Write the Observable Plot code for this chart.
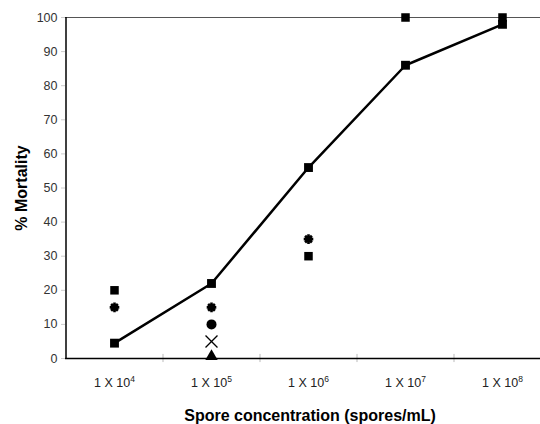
<!DOCTYPE html>
<html>
<head>
<meta charset="utf-8">
<script src="https://cdn.jsdelivr.net/npm/d3@7"></script>
<script src="https://cdn.jsdelivr.net/npm/@observablehq/plot@0.6"></script>
<style>
  html, body { margin: 0; padding: 0; background: #fff; overflow: hidden; }
  #chart svg { display: block; }
</style>
</head>
<body>
<div id="chart"></div>
<script>
// Categories (spore concentrations, exponent of 10)
const concentrations = ["4", "5", "6", "7", "8"];
// Main series (line with squares)
const meanMortality = [4.5, 22, 56, 86, 98];
// Individual replicate points
const squarePts = [["4", 20], ["6", 30], ["7", 100], ["8", 100]];
const asteriskPts = [["4", 15], ["5", 15], ["6", 35]];
const circlePts = [["5", 10]];
const timesPts = [["5", 5]];
const trianglePts = [["5", 0]];
const yTicks = [0, 10, 20, 30, 40, 50, 60, 70, 80, 90, 100];

const main = concentrations.map((c, i) => ({c, v: meanMortality[i]}));
const toObj = arr => arr.map(([c, v]) => ({c, v}));
const halfStep = 48.5;

// 8-armed asterisk symbol
const star8 = {
  draw(context, size) {
    const r = Math.sqrt(size / Math.PI);
    for (let k = 0; k < 4; k++) {
      const a = k * Math.PI / 4;
      const dx = r * Math.cos(a), dy = r * Math.sin(a);
      context.moveTo(-dx, -dy);
      context.lineTo(dx, dy);
    }
  }
};

const plot = Plot.plot({
  width: 540,
  height: 424,
  marginLeft: 65,
  marginTop: 17,
  marginBottom: 66,
  marginRight: 0,
  style: {fontFamily: "Arial, 'Liberation Sans', sans-serif", background: "#fff", color: "#000"},
  x: {type: "point", domain: concentrations, range: [65, 550], padding: 0.5, align: 0.5},
  y: {domain: [0, 100], range: [358, 17]},
  marks: [
    Plot.ruleY([100], {stroke: "#555", strokeWidth: 1}),
    Plot.axisY({
      ticks: yTicks, tickSize: 4, stroke: "#ccc", tickPadding: 4,
      fontSize: 12.5, fill: "#333",
      label: "% Mortality", labelAnchor: "center", labelOffset: 50, labelArrow: "none"
    }),
    Plot.axisX({
      tickSize: 0, tickPadding: 20, fontSize: 12.5, fill: "#222",
      tickFormat: d => "1 X 10^" + d,
      label: "Spore concentration (spores/mL)", labelAnchor: "center", labelOffset: 62, labelArrow: "none"
    }),
    // category boundary ticks
    Plot.ruleX(concentrations.slice(1), {x: d => d, dx: -halfStep, y1: -1.2, y2: 1.2, stroke: "#bbb", clip: false}),
    // left axis line
    Plot.ruleX([concentrations[0]], {x: d => d, dx: -halfStep, y1: 0, y2: 100, stroke: "#000", strokeWidth: 1.5}),
    Plot.ruleY([0], {stroke: "#000", strokeWidth: 1.5}),
    Plot.line(main, {x: "c", y: "v", stroke: "#000", strokeWidth: 2.5}),
    Plot.dot(main, {x: "c", y: "v", symbol: "square", r: 5, fill: "#000"}),
    Plot.dot(toObj(squarePts), {x: "c", y: "v", symbol: "square", r: 4.8, fill: "#000"}),
    Plot.dot(toObj(asteriskPts), {x: "c", y: "v", symbol: star8, r: 4.8, fill: "none", stroke: "#000", strokeWidth: 2.6}),
    Plot.dot(toObj(circlePts), {x: "c", y: "v", symbol: "circle", r: 5, fill: "#000"}),
    Plot.dot(toObj(timesPts), {x: "c", y: "v", symbol: "times", r: 5.5, fill: "none", stroke: "#000", strokeWidth: 1.3}),
    Plot.dot(toObj(trianglePts), {x: "c", y: "v", symbol: "triangle", r: 4.6, fill: "#000", dy: -2})
  ]
});

document.getElementById("chart").appendChild(plot);

// Turn "1 X 10^n" into superscript tspans
const svg = d3.select(plot.tagName === "svg" ? plot : plot.querySelector("svg"));
svg.selectAll("g[aria-label='x-axis tick label'] text").each(function() {
  const t = d3.select(this);
  const s = t.text();
  const m = s.split("^");
  if (m.length === 2) {
    t.text(m[0]);
    t.append("tspan").attr("dy", "-5").attr("font-size", "8.5").text(m[1]);
  }
});
svg.selectAll("g[aria-label='y-axis label'], g[aria-label='x-axis label']")
  .attr("font-weight", "bold").attr("font-size", 16).attr("fill", "#000");
svg.selectAll("g[aria-label='y-axis label'] text, g[aria-label='x-axis label'] text")
  .attr("font-weight", "bold").attr("font-size", 16).attr("fill", "#000");
svg.selectAll("g[aria-label='x-axis label'] text").attr("dx", 7);
</script>
</body>
</html>
